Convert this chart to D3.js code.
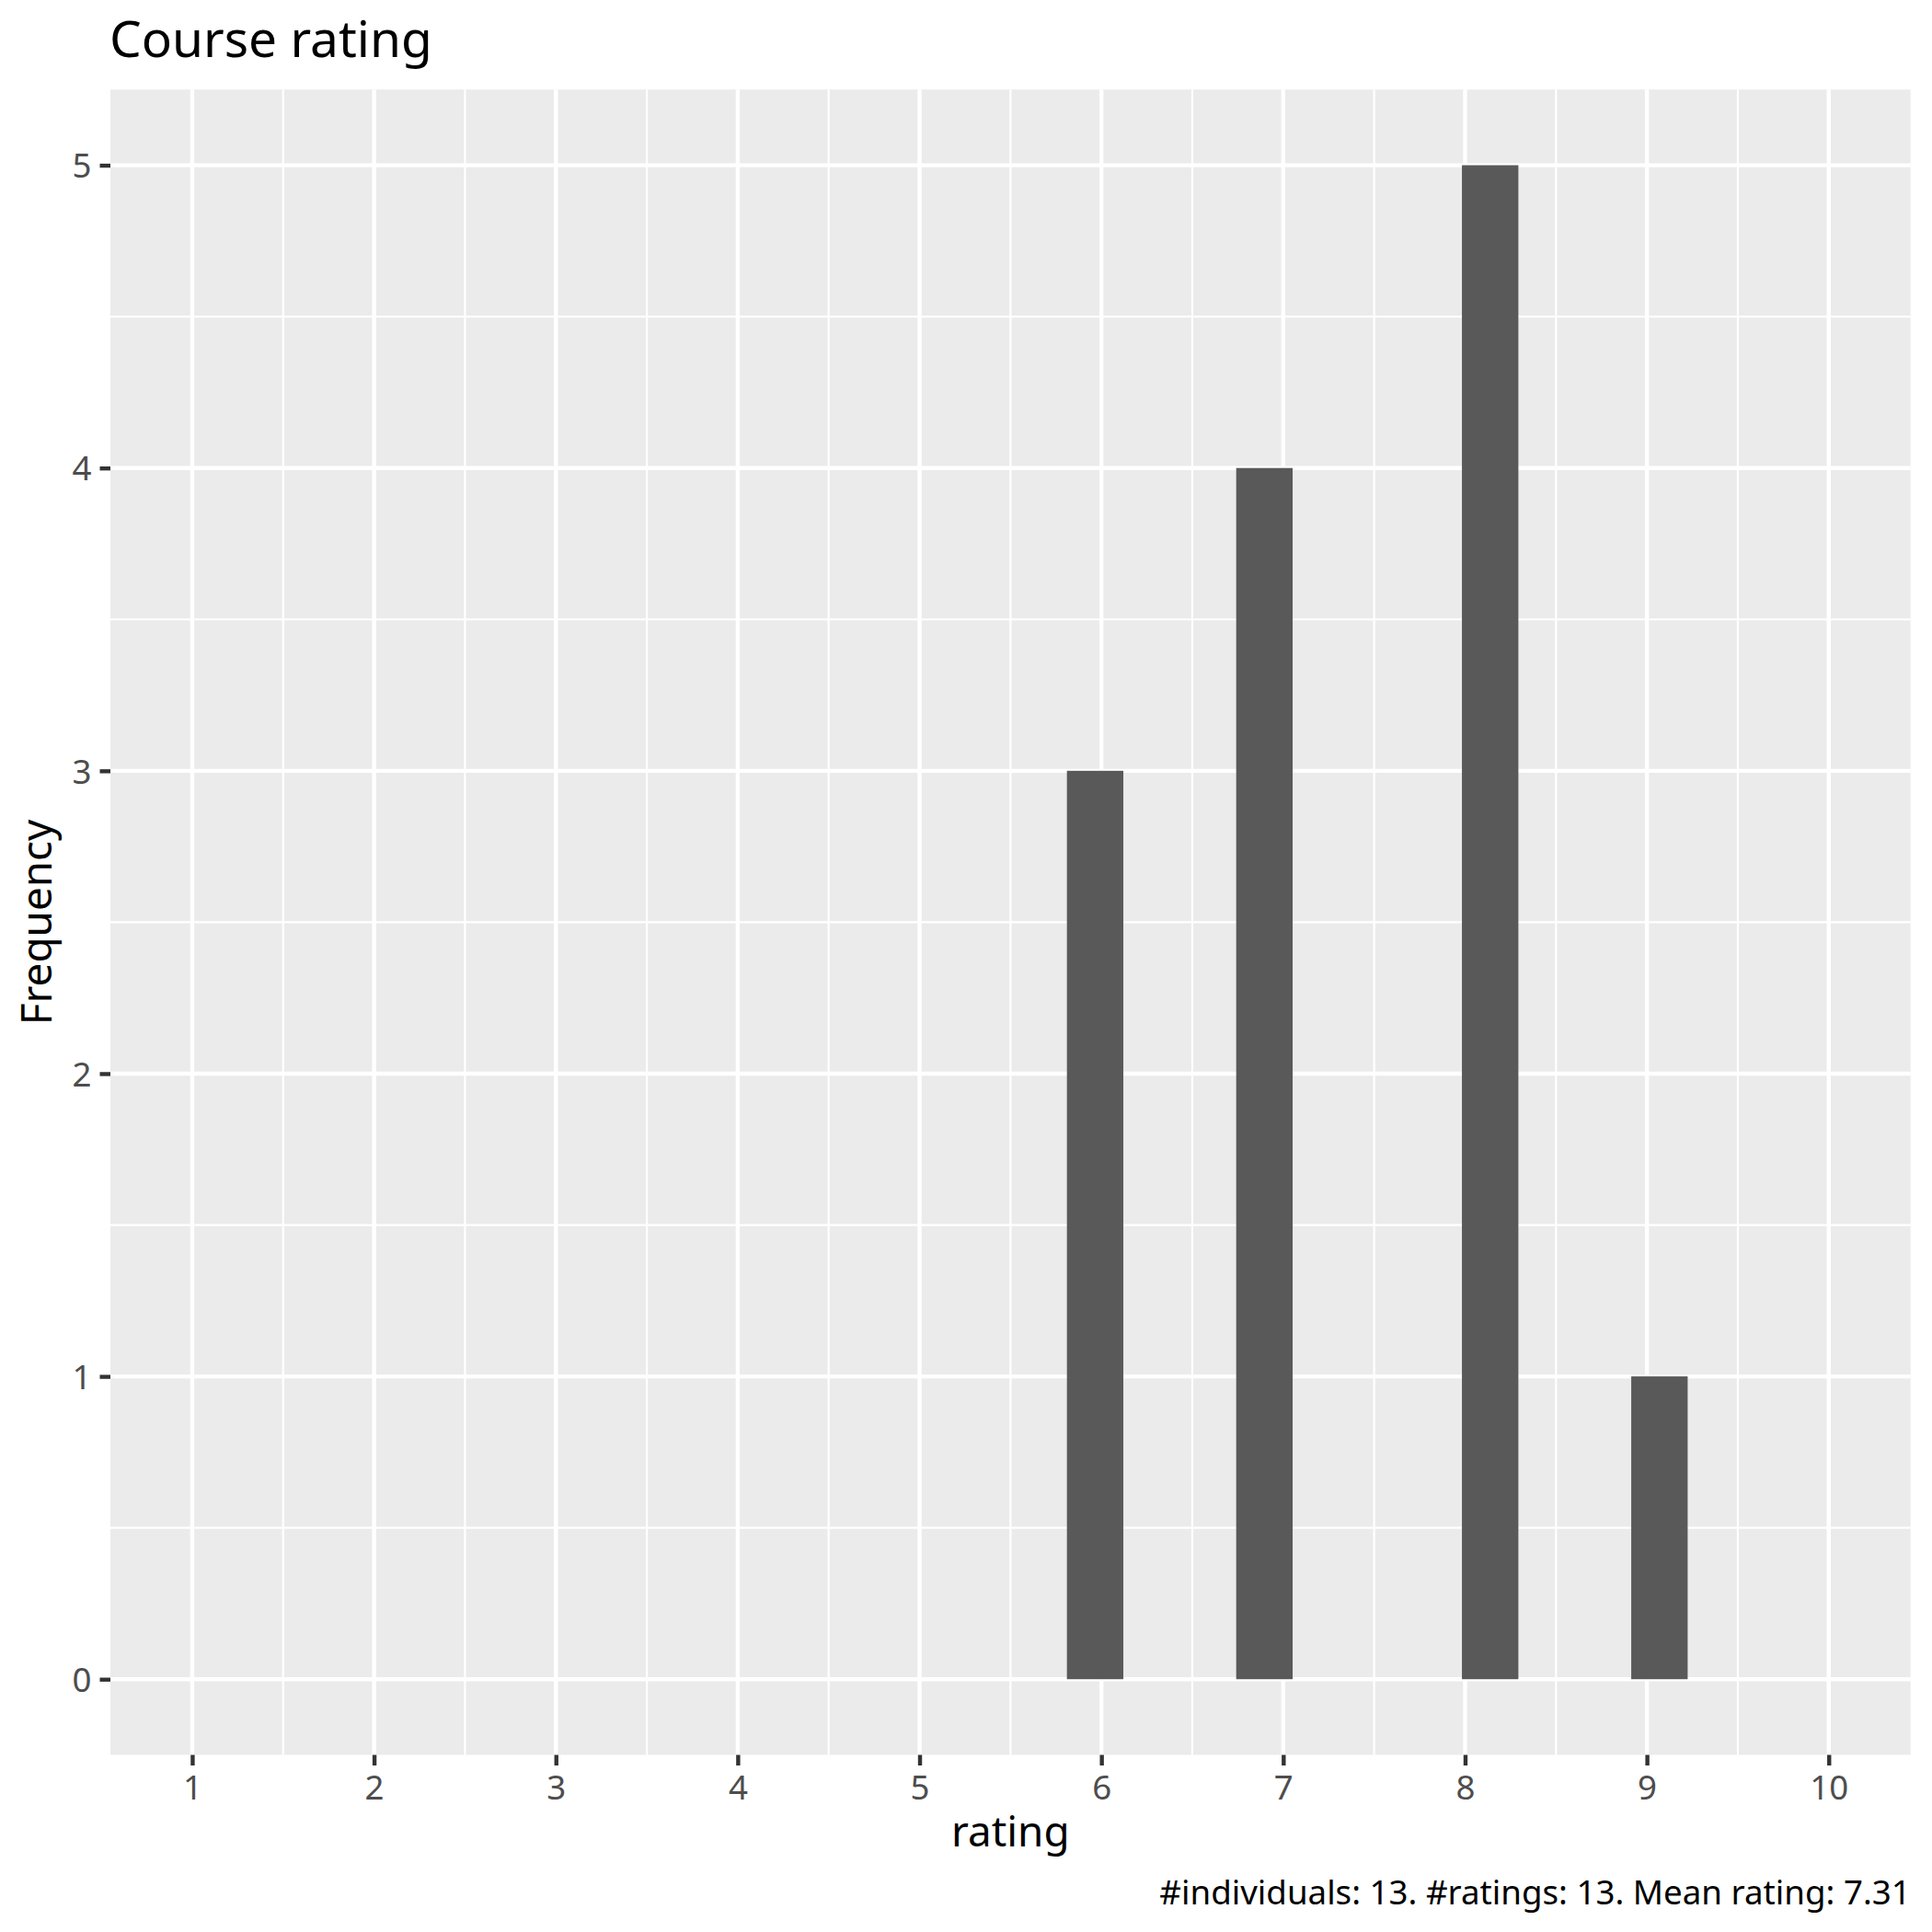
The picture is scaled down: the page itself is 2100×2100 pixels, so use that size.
<!DOCTYPE html>
<html>
<head>
<meta charset="utf-8">
<script src="https://cdn.jsdelivr.net/npm/d3@7"></script>
<style>
    body { margin: 0; background: #fff; }
    svg text { font-family: "Noto Sans", "Open Sans", sans-serif; }
</style>
</head>
<body>
<div id="chart"></div>
<script>
// Ratings given and how many people gave each one
const ratings = [6, 7, 8, 9];
const counts = [3, 4, 5, 1];
const xTicks = [1, 2, 3, 4, 5, 6, 7, 8, 9, 10];
const yTicks = [0, 1, 2, 3, 4, 5];
const titleText = "Course rating";
const xLabel = "rating";
const yLabel = "Frequency";

// Histogram bins like ggplot's default (30 bins over the x limits)
function makeBins(xMin, xMax, nBins) {
    const width = (xMax - xMin) / (nBins - 1);
    const bins = [];
    ratings.forEach((r, i) => {
        const k = Math.round((r - xMin) / width);
        const center = xMin + k * width;
        bins.push({ x0: center - width / 2, x1: center + width / 2, count: counts[i] });
    });
    return bins;
}

function drawChart() {
    const W = 2100, H = 2100;
    const margin = { top: 97.3, right: 23.3, bottom: 192.5, left: 120 };

    const svg = d3.select("#chart").append("svg")
        .attr("width", W)
        .attr("height", H)
        .attr("viewBox", [0, 0, W, H]);

    const left = margin.left, right = W - margin.right;
    const top = margin.top, bottom = H - margin.bottom;

    // ggplot adds 5% on each side
    const xDom = [1, 10], yDom = [0, 5];
    const xPad = (xDom[1] - xDom[0]) * 0.05, yPad = (yDom[1] - yDom[0]) * 0.05;
    const x = d3.scaleLinear().domain([xDom[0] - xPad, xDom[1] + xPad]).range([left, right]);
    const y = d3.scaleLinear().domain([yDom[0] - yPad, yDom[1] + yPad]).range([bottom, top]);

    const g = svg.append("g");

    // Panel background
    g.append("rect")
        .attr("x", left)
        .attr("y", top)
        .attr("width", right - left)
        .attr("height", bottom - top)
        .attr("fill", "#EBEBEB");

    // Minor grid lines sit half way between breaks
    const xMinor = d3.range(0.5, 11, 1).filter(v => x(v) > left && x(v) < right);
    const yMinor = d3.range(-0.5, 6, 1).filter(v => y(v) < bottom && y(v) > top);

    g.append("g").selectAll("line")
        .data(xMinor)
        .join("line")
        .attr("x1", d => x(d)).attr("x2", d => x(d))
        .attr("y1", top).attr("y2", bottom)
        .attr("stroke", "#fff").attr("stroke-width", 2.2);

    g.append("g").selectAll("line")
        .data(yMinor)
        .join("line")
        .attr("x1", left).attr("x2", right)
        .attr("y1", d => y(d)).attr("y2", d => y(d))
        .attr("stroke", "#fff").attr("stroke-width", 2.2);

    // Major grid lines
    g.append("g").selectAll("line")
        .data(xTicks)
        .join("line")
        .attr("x1", d => x(d)).attr("x2", d => x(d))
        .attr("y1", top).attr("y2", bottom)
        .attr("stroke", "#fff").attr("stroke-width", 4.4);

    g.append("g").selectAll("line")
        .data(yTicks)
        .join("line")
        .attr("x1", left).attr("x2", right)
        .attr("y1", d => y(d)).attr("y2", d => y(d))
        .attr("stroke", "#fff").attr("stroke-width", 4.4);

    // Bars
    const bins = makeBins(xDom[0], xDom[1], 30);
    g.append("g").selectAll("rect")
        .data(bins)
        .join("rect")
        .attr("x", d => x(d.x0))
        .attr("width", d => x(d.x1) - x(d.x0))
        .attr("y", d => y(d.count))
        .attr("height", d => y(0) - y(d.count))
        .attr("fill", "#595959");

    // Axes
    const xAxis = d3.axisBottom(x).tickValues(xTicks).tickSize(11.5).tickPadding(10).tickFormat(d3.format("d"));
    const yAxis = d3.axisLeft(y).tickValues(yTicks).tickSize(11.5).tickPadding(9).tickFormat(d3.format("d"));

    const gx = svg.append("g")
        .attr("transform", `translate(0,${bottom})`)
        .call(xAxis);
    const gy = svg.append("g")
        .attr("transform", `translate(${left},0)`)
        .call(yAxis);

    [gx, gy].forEach(ax => {
        ax.select(".domain").remove();
        ax.selectAll(".tick line").attr("stroke", "#333333").attr("stroke-width", 4.4);
        ax.selectAll(".tick text")
            .attr("fill", "#4D4D4D")
            .style("font-size", "36.7px")
            .style("font-family", "'Noto Sans', sans-serif");
    });
    gx.selectAll(".tick text").attr("dy", null).attr("y", 48);
    gy.selectAll(".tick text").attr("dy", "0.36em");

    // Title, axis titles, caption
    svg.append("text")
        .attr("x", left - 1)
        .attr("y", 62)
        .attr("fill", "#000")
        .style("font-size", "55px")
        .text(titleText);

    svg.append("text")
        .attr("x", (left + right) / 2)
        .attr("y", 2007)
        .attr("text-anchor", "middle")
        .attr("fill", "#000")
        .style("font-size", "45.8px")
        .text(xLabel);

    svg.append("text")
        .attr("transform", `translate(56,${(top + bottom) / 2}) rotate(-90)`)
        .attr("text-anchor", "middle")
        .attr("fill", "#000")
        .style("font-size", "45.8px")
        .text(yLabel);

    const total = d3.sum(counts);
    const mean = d3.sum(ratings.map((r, i) => r * counts[i])) / total;
    svg.append("text")
        .attr("x", right)
        .attr("y", 2070)
        .attr("text-anchor", "end")
        .attr("fill", "#000")
        .style("font-size", "36.7px")
        .text(`#individuals: ${total}. #ratings: ${total}. Mean rating: ${mean.toFixed(2)}`);
}

document.addEventListener("DOMContentLoaded", drawChart);
</script>
</body>
</html>
